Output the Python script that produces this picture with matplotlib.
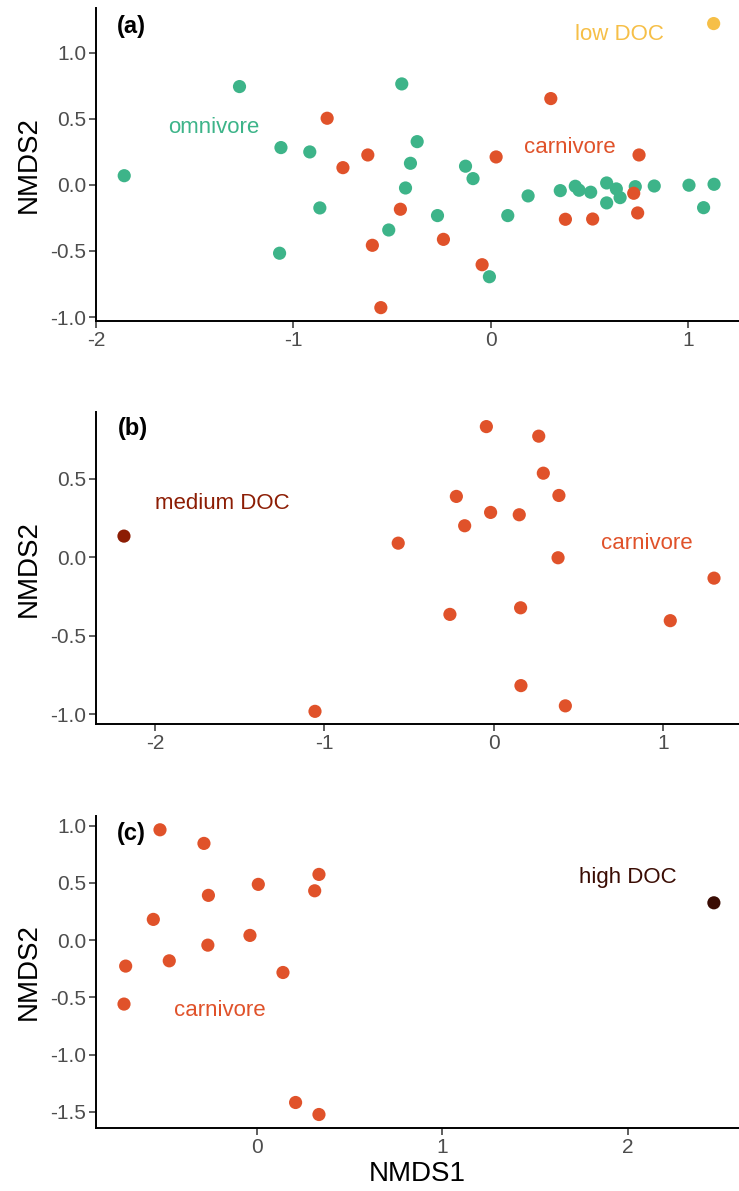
import matplotlib.pyplot as plt

plt.rcParams['font.family'] = ['Liberation Sans', 'DejaVu Sans']

GREEN = '#3DB489'
RED = '#E0522A'
YELLOW = '#F6BF47'
DARKRED = '#8C1D04'
BROWN = '#3A0C03'

# panel (a)
a_omni_x = [-1.857, -1.273, -1.063, -0.917, -0.866, -1.07, -0.451, -0.373, -0.407, -0.432,
            -0.517, -0.270, -0.128, -0.090, -0.007, 0.086, 0.189, 0.352, 0.428, 0.447,
            0.506, 0.587, 0.587, 0.636, 0.655, 0.732, 0.828, 1.004, 1.078, 1.131]
a_omni_y = [0.07, 0.745, 0.283, 0.25, -0.174, -0.517, 0.765, 0.328, 0.164, -0.023,
            -0.341, -0.232, 0.142, 0.048, -0.695, -0.232, -0.083, -0.043, -0.01, -0.04,
            -0.055, 0.015, -0.136, -0.03, -0.096, -0.013, -0.008, -0.002, -0.172, 0.005]
a_carn_x = [-0.829, -0.749, -0.623, -0.60, -0.458, -0.240, -0.557, -0.044, 0.027, 0.304,
            0.751, 0.724, 0.744, 0.378, 0.516]
a_carn_y = [0.505, 0.131, 0.227, -0.457, -0.184, -0.412, -0.929, -0.604, 0.212, 0.654,
            0.227, -0.063, -0.212, -0.26, -0.258]
a_doc_x = [1.129]
a_doc_y = [1.222]

# panel (b)
b_carn_x = [-1.056, -0.045, 0.264, 0.291, -0.222, 0.383, -0.020, 0.149, -0.173, -0.565,
            0.378, 1.298, -0.26, 0.157, 1.04, 0.159, 0.421]
b_carn_y = [-0.981, 0.834, 0.773, 0.537, 0.389, 0.395, 0.287, 0.272, 0.202, 0.091,
            -0.002, -0.132, -0.363, -0.321, -0.403, -0.817, -0.946]
b_doc_x = [-2.183]
b_doc_y = [0.136]

# panel (c)
c_carn_x = [-0.521, -0.284, 0.336, 0.009, 0.313, -0.26, -0.557, -0.036, -0.263, -0.471,
            -0.706, 0.142, -0.715, 0.21, 0.336]
c_carn_y = [0.964, 0.845, 0.574, 0.487, 0.431, 0.391, 0.181, 0.041, -0.044, -0.181,
            -0.227, -0.283, -0.559, -1.419, -1.524]
c_doc_x = [2.465]
c_doc_y = [0.326]

fig = plt.figure(figsize=(7.39, 11.91), dpi=100)
ax_a = fig.add_axes([0.1299, 0.7305, 0.870, 0.2628])
ax_b = fig.add_axes([0.1299, 0.3918, 0.870, 0.2620])
ax_c = fig.add_axes([0.1299, 0.0526, 0.870, 0.2625])

S = 90
LAB = 16

def style(ax, xlim, ylim, xticks, yticks, ylabels):
    ax.set_xlim(*xlim)
    ax.set_ylim(*ylim)
    ax.set_xticks(xticks)
    ax.set_xticklabels([str(t) for t in xticks])
    ax.set_yticks(yticks)
    ax.set_yticklabels(ylabels)
    for s in ['top', 'right']:
        ax.spines[s].set_visible(False)
    for s in ['left', 'bottom']:
        ax.spines[s].set_linewidth(1.4)
        ax.spines[s].set_color('black')
    ax.tick_params(length=5, width=1.1, color='#333333', labelcolor='#4D4D4D',
                   labelsize=15, pad=2)
    ax.set_ylabel('NMDS2', fontsize=20, labelpad=6)

# (a)
ax_a.scatter(a_omni_x, a_omni_y, s=S, color=GREEN, edgecolor='none', zorder=3)
ax_a.scatter(a_carn_x, a_carn_y, s=S, color=RED, edgecolor='none', zorder=3)
ax_a.scatter(a_doc_x, a_doc_y, s=S, color=YELLOW, edgecolor='none', zorder=3)
style(ax_a, (-2.0, 1.257), (-1.03, 1.34), [-2, -1, 0, 1], [-1.0, -0.5, 0.0, 0.5, 1.0],
      ['-1.0', '-0.5', '0.0', '0.5', '1.0'])
ax_a.text(-1.404, 0.434, 'omnivore', color=GREEN, fontsize=LAB, ha='center', va='center')
ax_a.text(0.398, 0.283, 'carnivore', color=RED, fontsize=LAB, ha='center', va='center')
ax_a.text(0.651, 1.14, 'low DOC', color=YELLOW, fontsize=LAB, ha='center', va='center')
ax_a.text(-1.82, 1.20, '(a)', fontsize=17, fontweight='bold', ha='center', va='center')

# (b)
ax_b.scatter(b_carn_x, b_carn_y, s=S, color=RED, edgecolor='none', zorder=3)
ax_b.scatter(b_doc_x, b_doc_y, s=S, color=DARKRED, edgecolor='none', zorder=3)
style(ax_b, (-2.348, 1.445), (-1.064, 0.925), [-2, -1, 0, 1], [-1.0, -0.5, 0.0, 0.5],
      ['-1.0', '-0.5', '0.0', '0.5'])
ax_b.text(-1.60, 0.342, 'medium DOC', color=DARKRED, fontsize=LAB, ha='center', va='center')
ax_b.text(0.90, 0.087, 'carnivore', color=RED, fontsize=LAB, ha='center', va='center')
ax_b.text(-2.132, 0.82, '(b)', fontsize=17, fontweight='bold', ha='center', va='center')

# (c)
ax_c.scatter(c_carn_x, c_carn_y, s=S, color=RED, edgecolor='none', zorder=3)
ax_c.scatter(c_doc_x, c_doc_y, s=S, color=BROWN, edgecolor='none', zorder=3)
style(ax_c, (-0.866, 2.60), (-1.645, 1.087), [0, 1, 2], [-1.5, -1.0, -0.5, 0.0, 0.5, 1.0],
      ['-1.5', '-1.0', '-0.5', '0.0', '0.5', '1.0'])
ax_c.text(2.0, 0.545, 'high DOC', color=BROWN, fontsize=LAB, ha='center', va='center')
ax_c.text(-0.2, -0.612, 'carnivore', color=RED, fontsize=LAB, ha='center', va='center')
ax_c.text(-0.674, 0.933, '(c)', fontsize=17, fontweight='bold', ha='center', va='center')
ax_c.set_xlabel('NMDS1', fontsize=20, labelpad=3)

fig.savefig('out.png', dpi=100)
